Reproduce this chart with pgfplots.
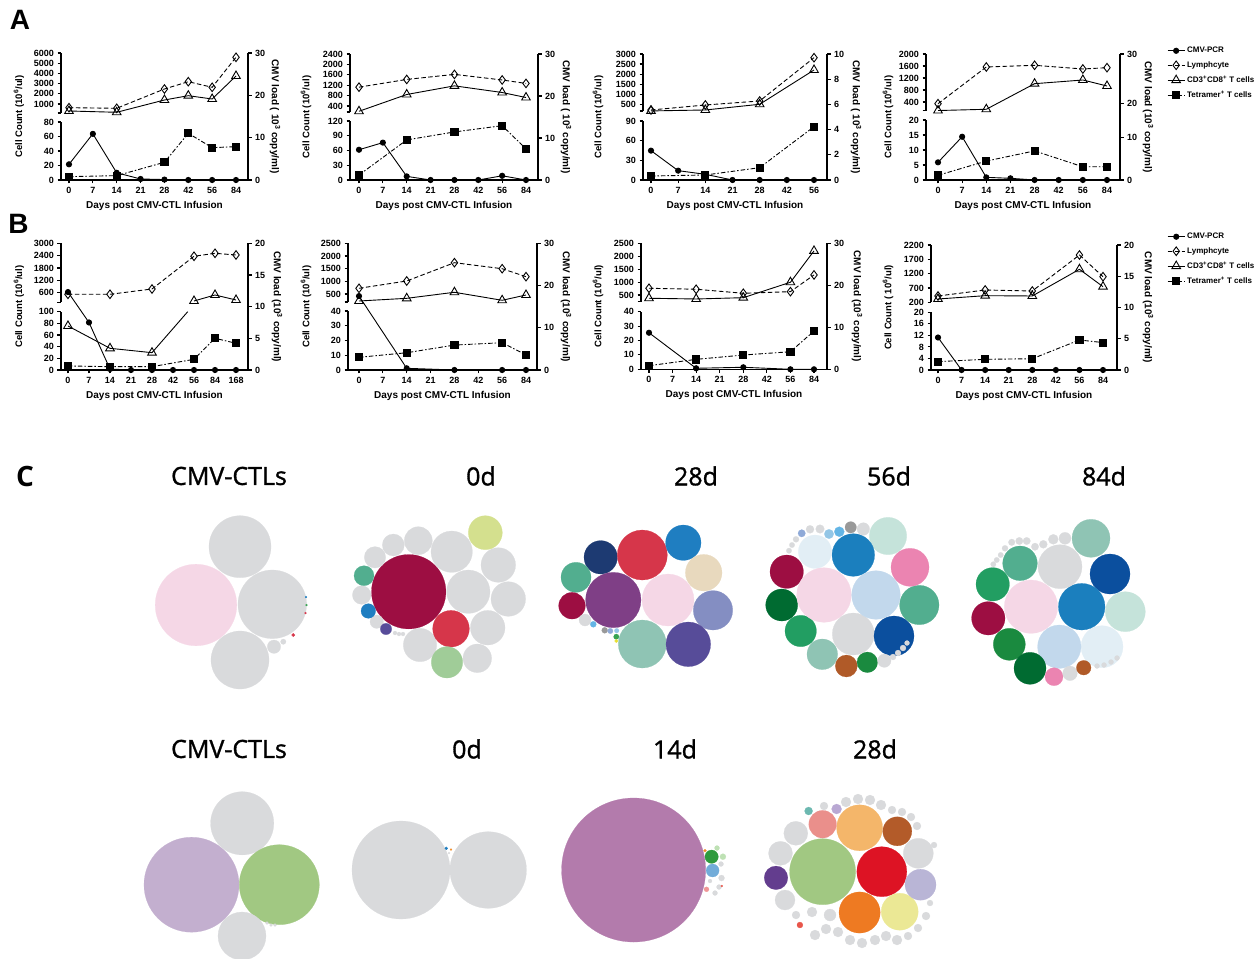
\documentclass[border=0pt]{standalone}
\usepackage{fontspec}
\setmainfont{Liberation Sans}
\newfontfamily\ofont{Open Sans}[FakeBold=1.2]
\newfontfamily\ofontb{Open Sans}
\usepackage{pgfplots}
\pgfplotsset{compat=1.18}
\definecolor{k0}{RGB}{217,218,220}\definecolor{k1}{RGB}{245,215,230}\definecolor{k2}{RGB}{157,14,66}
\definecolor{k3}{RGB}{214,54,74}\definecolor{k4}{RGB}{212,224,142}\definecolor{k5}{RGB}{82,174,143}
\definecolor{k6}{RGB}{31,126,193}\definecolor{k7}{RGB}{87,76,153}\definecolor{k8}{RGB}{160,204,152}
\definecolor{k9}{RGB}{29,58,114}\definecolor{k10}{RGB}{232,217,190}\definecolor{k11}{RGB}{127,63,134}
\definecolor{k12}{RGB}{132,142,194}\definecolor{k13}{RGB}{143,196,180}\definecolor{k14}{RGB}{100,181,229}
\definecolor{k15}{RGB}{153,153,153}\definecolor{k16}{RGB}{54,163,82}\definecolor{k17}{RGB}{232,224,48}
\definecolor{k18}{RGB}{0,107,49}\definecolor{k19}{RGB}{34,158,98}\definecolor{k20}{RGB}{176,90,40}
\definecolor{k21}{RGB}{26,138,63}\definecolor{k22}{RGB}{11,79,158}\definecolor{k23}{RGB}{235,132,177}
\definecolor{k24}{RGB}{197,227,218}\definecolor{k25}{RGB}{27,127,190}\definecolor{k26}{RGB}{226,238,245}
\definecolor{k27}{RGB}{194,216,236}\definecolor{k28}{RGB}{195,175,207}\definecolor{k29}{RGB}{161,200,130}
\definecolor{k30}{RGB}{179,123,172}\definecolor{k31}{RGB}{47,154,62}\definecolor{k32}{RGB}{114,172,217}
\definecolor{k33}{RGB}{221,19,36}\definecolor{k34}{RGB}{244,182,106}\definecolor{k35}{RGB}{179,91,41}
\definecolor{k36}{RGB}{234,143,139}\definecolor{k37}{RGB}{238,122,34}\definecolor{k38}{RGB}{235,232,149}
\definecolor{k39}{RGB}{185,181,214}\definecolor{k40}{RGB}{99,61,142}\definecolor{k41}{RGB}{108,184,176}
\definecolor{k42}{RGB}{185,168,211}\definecolor{k43}{RGB}{232,86,75}\definecolor{k44}{RGB}{147,198,230}
\definecolor{k45}{RGB}{143,170,216}\definecolor{k46}{RGB}{190,225,180}\definecolor{k47}{RGB}{240,150,150}
\definecolor{k48}{RGB}{240,140,40}
\pgfplotsset{
  gp/.style={scale only axis, anchor=south west, clip=false,
    axis line style={line width=1.2pt,-},
    every tick/.style={black, line width=1.1pt},
    major tick length=3.5pt, tick align=outside,
    tick label style={font=\bfseries\fontsize{9}{10}\selectfont},
    /pgf/number format/assume math mode=true,
    /pgf/number format/1000 sep={}, scaled y ticks=false},
  lowax/.style={gp, axis x line*=bottom, axis y line*=left, ymin=0},
  topax/.style={gp, axis x line=none, axis y line*=left},
  rax/.style={gp, axis x line=none, axis y line*=right},
  pcr/.style={black, line width=0.9pt, mark=*, mark size=2.6pt, mark options={solid}},
  lym/.style={black, line width=0.9pt, dash pattern=on 4.5pt off 2.5pt, mark=diamond, mark size=4.3pt, mark options={solid, fill=white}},
  cd/.style={black, line width=0.9pt, mark=triangle, mark size=5pt, mark options={solid, fill=white}},
  tet/.style={black, line width=0.9pt, dash pattern=on 4.5pt off 2pt on 1.5pt off 2pt, mark=square*, mark size=3.6pt, mark options={solid}},
  leg/.style={legend style={at={(axis description cs:#1)}, anchor=north west, draw=none, fill=none,
    font=\bfseries\fontsize{8}{8.5}\selectfont, row sep=3.3pt, inner sep=0pt}, legend cell align=left},
}
\newcommand{\lbls}[4]{%
  \node[font=\bfseries\fontsize{9.5}{11}\selectfont, rotate=90] at ([xshift=#1]axis description cs:0,0.5) {Cell Count (#310\textsuperscript{6}/ul)};
  \node[font=\bfseries\fontsize{10}{11}\selectfont, rotate=-90] at ([xshift=#2]axis description cs:1,0.5) {CMV load (#410\textsuperscript{3} copy/ml)};}
\newcommand{\xlbl}{\node[font=\bfseries\fontsize{10}{11}\selectfont] at ([yshift=-26pt]axis description cs:0.5,0) {Days post CMV-CTL Infusion};}
\begin{document}
\begin{tikzpicture}
\useasboundingbox (0pt,0pt) rectangle (1260pt,958pt);

% ================= Panel C bubbles =================
\begin{axis}[at={(0pt,0pt)}, anchor=south west, scale only axis, width=1260pt, height=958pt,
  xmin=0, xmax=1260, ymin=0, ymax=958, y dir=reverse, hide axis, clip=false]
\addplot[scatter, only marks, mark=*, point meta=x,
  visualization depends on={\thisrow{r}\as\rr},
  visualization depends on={value \thisrow{c}\as\cc},
  scatter/@pre marker code/.code={\scope[mark size=\rr, color=k\cc, line width=0.2pt]},
  scatter/@post marker code/.code={\endscope}]
  table[x=x, y=y] {
x y r c
196 605 40.8 1
240 546.7 31 0
272.3 604.3 34.3 0
240 660 29 0
274 646.7 6.7 0
283.3 641.7 2.7 0
293.3 635 1.7 3
306 597 1 6
306.5 605 1 16
305.5 613 1 3
408.7 591.7 37.2 2
451.7 551.7 20.7 0
418.3 540.7 14 0
393.3 545 11 0
375 557.3 10.7 0
468.3 591.7 21.7 0
498.3 565 17.3 0
508.3 599 17.3 0
487.7 627.7 17.3 0
477.3 658.3 14.3 0
420 645 16.7 0
361.7 595 9.3 0
376.7 621.7 6.7 0
485.3 532.7 17 4
364 575.7 10 5
368.3 611 7.3 6
386 629 5.7 7
451 628.7 18.3 3
447 662.3 15.7 8
395 633 2 0
399 634 2 0
403 634 2 0
600.7 557.3 16.7 9
642.3 555 25 3
683.3 542.7 17.7 6
576 577.3 15 5
703.7 572.7 18.3 10
572 605.7 13.3 2
613.3 600 27.7 11
668 600 26 1
713 610.3 19.7 12
642.3 644 24 13
688.3 644.3 22.3 7
585 620 6 0
593.3 624.3 3 14
604.7 630.3 3 15
610.3 631 2.7 45
616.3 636.7 2.7 16
616.3 641 1.7 17
616.7 630.7 2.3 44
786.7 571.7 16.7 2
781.7 605 16 18
800.7 631 15.7 19
822.3 654.3 15.3 13
846.3 666 11 20
867.3 662.3 10.3 21
853.3 634 21 0
894 636 20 22
919.3 605 19.7 5
910 567.3 19 23
888 536 18.7 24
853.3 555 21.3 25
815 551.7 16.7 26
824 595 27.3 1
876 595 24.3 27
884.3 660.7 6.7 0
893 657 3 0
898 653 3 0
903 648 3 0
907 643 2.5 0
850.7 527.3 5.7 15
863.3 529 6.3 0
839.3 531.7 5 14
829 534 4.7 44
820 529 4.3 0
810 529.3 4 0
801.7 533.3 3.7 45
796 539.3 3 0
792 545 2.7 0
789 550.7 2.7 0
1091 538.3 19 13
1110 574 20 22
1125.3 611.7 20 24
1102 646.7 21 26
1059.3 646.7 21.7 27
1081.7 606.7 23.3 25
1060 566.7 22 0
1031 606.7 26.7 1
1020 563.3 17.3 5
992.7 584.3 16.7 19
988.3 618.3 16.7 2
1009.3 644.3 16 21
1030 668.3 16 18
1054 676.7 9 23
1070 673.3 7.3 0
1083.7 667.7 7.3 20
1065 538.3 6 0
1053.3 539.3 5 0
1043.3 544.3 4 0
1035 546.7 3.7 0
1026.7 541 3.7 0
1019.3 541 3.7 0
1011.7 542.3 3.3 0
1005 548.3 3 0
1000.7 555 2.7 0
996.7 560 2.7 0
993.3 564.3 2.7 0
1097 666 2.5 0
1104 665 2.5 0
1111 662 2.5 0
1117 658 2.5 0
191.5 884.7 47.5 28
242.2 823.3 31.6 0
279.3 884.7 40 29
242 936 24 0
267 923 1.5 0
271 925 1.5 0
275 925 1.5 0
401 870 49 0
488.2 870 38.3 0
446.3 848.3 1.5 6
451 849.5 1 48
449 853 1 0
633.6 870 72 30
711.6 856.7 6.7 31
712.6 870.5 6.5 32
706.5 889.3 2.5 47
722.9 856.7 3 46
721 864 2.5 0
721.5 878 3 0
719 887 2.5 0
715 893 2.5 0
710 881 2 0
717 848 2.5 46
705 850.7 1.5 48
721.8 886 1 43
822.6 871.7 33 29
881.8 871.7 25 33
859.6 827.8 23 34
897.3 831.3 14.5 35
822.6 824.2 13.8 36
859.6 912.5 20.6 37
899.7 911.7 18.5 38
920.5 884.7 15.5 39
776 877.8 11.8 40
808.6 811 4 41
836.6 809 5 42
799.9 925 3 43
795.8 833.3 12 0
780.5 853.3 12 0
785 900 10 0
918.3 853.3 15 0
830 915 6 0
838 932 5 0
826 929 5 0
850 940 5 0
862 943 5 0
875 940 5 0
886 936 5 0
897 940 5 0
908 936 4 0
918 928 4 0
926 916 4 0
812 912 5 0
815 935 5 0
796 915 4 0
846 802 5 0
858 799 5 0
870 800 5 0
881 805 5 0
892 810 4 0
902 812 4 0
911 817 4 0
917 826 4 0
824 806 4 0
934 845 3 0
930 903 3 0
};
\end{axis}

% panel C labels
\node[font=\ofontb\bfseries\fontsize{28}{30}\selectfont] at (25pt,481pt) {C};
\node[font=\ofont\fontsize{25}{27}\selectfont] at (229pt,482pt) {CMV-CTLs};
\node[font=\ofont\fontsize{25}{27}\selectfont] at (481pt,482pt) {0d};
\node[font=\ofont\fontsize{25}{27}\selectfont] at (696pt,482pt) {28d};
\node[font=\ofont\fontsize{25}{27}\selectfont] at (889pt,482pt) {56d};
\node[font=\ofont\fontsize{25}{27}\selectfont] at (1104pt,482pt) {84d};
\node[font=\ofont\fontsize{25}{27}\selectfont] at (229pt,209pt) {CMV-CTLs};
\node[font=\ofont\fontsize{25}{27}\selectfont] at (467pt,209pt) {0d};
\node[font=\ofont\fontsize{25}{27}\selectfont] at (675pt,209pt) {14d};
\node[font=\ofont\fontsize{25}{27}\selectfont] at (875pt,209pt) {28d};

\node[font=\bfseries\fontsize{28}{30}\selectfont] at (20pt,938pt) {A};
\node[font=\bfseries\fontsize{28}{30}\selectfont] at (18.5pt,734pt) {B};

% ================= A1 =================
\begin{axis}[lowax, at={(61pt,778pt)}, width=187pt, height=58pt, xmin=-0.335, xmax=7.503, ymax=80,
  ytick={0,20,40,60,80}, xtick={0,...,7}, xticklabels={0,7,14,21,28,42,56,84}]
\addplot[tet] coordinates {(0,4.6)(2,6)(4,24.4)(5,64.4)(6,44.6)(7,46)};
\xlbl
\end{axis}
\begin{axis}[topax, at={(61pt,845pt)}, width=187pt, height=60pt, xmin=-0.335, xmax=7.503, ymin=118, ymax=6000,
  ytick={1000,2000,...,6000}, extra y ticks={118}, extra y tick labels={}]
\addplot[lym] coordinates {(0,638)(2,580)(4,2470)(5,3186)(6,2637)(7,5578)};
\addplot[cd] coordinates {(0,314)(2,187)(4,1392)(5,1814)(6,1490)(7,3745)};
\end{axis}
\begin{axis}[rax, at={(61pt,778pt)}, width=187pt, height=127pt, xmin=-0.335, xmax=7.503, ymin=0, ymax=30,
  ytick={0,10,20,30}]
\addplot[pcr] coordinates {(0,3.7)(1,10.9)(2,1.7)(3,0.24)(4,0.1)(5,0)(6,0)(7,0)};
\lbls{-42pt}{27pt}{}{\ }
\end{axis}

% ================= A2 =================
\begin{axis}[lowax, at={(350pt,778pt)}, width=188pt, height=59pt, xmin=-0.377, xmax=7.503, ymax=120,
  ytick={0,30,60,90,120}, xtick={0,...,7}, xticklabels={0,7,14,21,28,42,56,84}]
\addplot[tet] coordinates {(0,10.1)(2,81.5)(4,97.7)(6,110.5)(7,63.3)};
\xlbl
\end{axis}
\begin{axis}[topax, at={(350pt,846pt)}, width=188pt, height=58pt, xmin=-0.377, xmax=7.503, ymin=168, ymax=2400,
  ytick={400,800,...,2400}, extra y ticks={168}, extra y tick labels={}]
\addplot[lym] coordinates {(0,1123)(2,1421)(4,1615)(6,1400)(7,1267)};
\addplot[cd] coordinates {(0,195)(2,841)(4,1174)(6,918)(7,725)};
\end{axis}
\begin{axis}[rax, at={(350pt,778pt)}, width=188pt, height=126pt, xmin=-0.377, xmax=7.503, ymin=0, ymax=30,
  ytick={0,10,20,30}]
\addplot[pcr] coordinates {(0,7.2)(1,8.9)(2,0.86)(3,0)(4,0)(5,0)(6,1.0)(7,0)};
\lbls{-44pt}{28pt}{}{\ }
\end{axis}

% ================= A3 =================
\begin{axis}[lowax, at={(643pt,778pt)}, width=184pt, height=59pt, xmin=-0.294, xmax=6.478, ymax=90,
  ytick={0,30,60,90}, xtick={0,...,6}, xticklabels={0,7,14,21,28,42,56}]
\addplot[tet] coordinates {(0,6.1)(2,7.6)(4,18.8)(6,81.3)};
\xlbl
\end{axis}
\begin{axis}[topax, at={(643pt,847pt)}, width=184pt, height=57pt, xmin=-0.294, xmax=6.478, ymin=167, ymax=3000,
  ytick={500,1000,...,3000}, extra y ticks={167}, extra y tick labels={}]
\addplot[lym] coordinates {(0,217)(2,465)(4,664)(6,2816)};
\addplot[cd] coordinates {(0,170)(2,217)(4,500)(6,2205)};
\end{axis}
\begin{axis}[rax, at={(643pt,778pt)}, width=184pt, height=126pt, xmin=-0.294, xmax=6.478, ymin=0, ymax=10,
  ytick={0,2,...,10}]
\addplot[pcr] coordinates {(0,2.33)(1,0.74)(2,0.45)(3,0)(4,0)(5,0)(6,0)};
\lbls{-45pt}{29pt}{}{\ }
\end{axis}

% ================= A4 =================
\begin{axis}[lowax, at={(926pt,778pt)}, width=194pt, height=60pt, xmin=-0.497, xmax=7.539, ymax=20,
  ytick={0,5,...,20}, xtick={0,...,7}, xticklabels={0,7,14,21,28,42,56,84}]
\addplot[tet] coordinates {(0,1.56)(2,6.3)(4,9.7)(6,4.4)(7,4.4)};
\xlbl
\end{axis}
\begin{axis}[topax, at={(926pt,847.3pt)}, width=194pt, height=56.7pt, xmin=-0.497, xmax=7.539, ymin=110, ymax=2000,
  ytick={400,800,...,2000}, extra y ticks={110}, extra y tick labels={}]
\addplot[lym] coordinates {(0,343)(2,1567)(4,1623)(6,1500)(7,1543)};
\addplot[cd] coordinates {(0,115)(2,157)(4,1010)(6,1133)(7,933)};
\end{axis}
\begin{axis}[rax, at={(926pt,778pt)}, width=194pt, height=126pt, xmin=-0.497, xmax=7.539, ymin=0, ymax=30,
  ytick={0,10.07,18.17,30}, yticklabels={0,10,20,30}, leg={1.242,1.071}]
\addplot[pcr] coordinates {(0,4.2)(1,10.3)(2,0.63)(3,0.4)(4,0)(5,0)(6,0)(7,0)};
\addlegendentry{CMV-PCR}
\addlegendimage{lym}\addlegendentry{Lymphcyte}
\addlegendimage{cd}\addlegendentry{CD3\textsuperscript{+}CD8\textsuperscript{+} T cells}
\addlegendimage{tet}\addlegendentry{Tetramer\textsuperscript{+} T cells}
\lbls{-38pt}{28pt}{}{}
\end{axis}

% ================= B1 =================
\begin{axis}[lowax, at={(61pt,588pt)}, width=187pt, height=58.3pt, xmin=-0.333, xmax=8.571, ymax=100,
  ytick={0,20,...,100}, xtick={0,...,8}, xticklabels={0,7,14,21,28,42,56,84,168}]
\addplot[tet] coordinates {(0,6.9)(2,5.7)(4,5.7)(6,18.3)(7,54.4)(8,45.8)};
\addplot[cd] coordinates {(0,75.5)(2,37.2)(4,29.7)};
\addplot[black, line width=0.9pt] coordinates {(4,29.7)(5.7,100)};
\xlbl
\end{axis}
\begin{axis}[topax, at={(61pt,655.7pt)}, width=187pt, height=59pt, xmin=-0.333, xmax=8.571, ymin=134, ymax=3000,
  ytick={600,1200,...,3000}, extra y ticks={134}, extra y tick labels={}]
\addplot[lym] coordinates {(0,523)(2,523)(4,780)(6,2369)(7,2514)(8,2432)};
\addplot[cd] coordinates {(6,197)(7,489)(8,246)};
\end{axis}
\begin{axis}[rax, at={(61pt,588pt)}, width=187pt, height=126.7pt, xmin=-0.333, xmax=8.571, ymin=0, ymax=20,
  ytick={0,5,...,20}]
\addplot[pcr] coordinates {(0,12.3)(1,7.5)(2,0.15)(3,0)(4,0)(5,0)(6,0)(7,0)(8,0)};
\lbls{-42pt}{29pt}{}{}
\end{axis}

% ================= B2 =================
\begin{axis}[lowax, at={(348pt,588pt)}, width=189pt, height=59pt, xmin=-0.461, xmax=7.461, ymax=40,
  ytick={0,10,...,40}, xtick={0,...,7}, xticklabels={0,7,14,21,28,42,56,84}]
\addplot[tet] coordinates {(0,8.6)(2,11.7)(4,16.9)(6,18.5)(7,10.2)};
\xlbl
\end{axis}
\begin{axis}[topax, at={(348pt,656pt)}, width=189pt, height=58.7pt, xmin=-0.461, xmax=7.461, ymin=185, ymax=2500,
  ytick={500,1000,...,2500}, extra y ticks={185}, extra y tick labels={}]
\addplot[lym] coordinates {(0,725)(2,1013)(4,1735)(6,1498)(7,1183)};
\addplot[cd] coordinates {(0,224)(2,330)(4,568)(6,252)(7,461)};
\end{axis}
\begin{axis}[rax, at={(348pt,588pt)}, width=189pt, height=126.7pt, xmin=-0.461, xmax=7.461, ymin=0, ymax=30,
  ytick={0,10,20,30}]
\addplot[pcr] coordinates {(0,17.5)(2,0.4)(4,0)(6,0)(7,0)};
\lbls{-42pt}{29pt}{}{}
\end{axis}

% ================= B3 =================
\begin{axis}[lowax, at={(641pt,588.7pt)}, width=186pt, height=57.6pt, xmin=-0.339, xmax=7.552, ymax=40,
  ytick={0,10,...,40}, xtick={0,...,7}, xticklabels={0,7,14,21,28,42,56,84}]
\addplot[tet] coordinates {(0,2.5)(2,6.9)(4,9.9)(6,12.2)(7,26.6)};
\xlbl
\end{axis}
\begin{axis}[topax, at={(641pt,656.3pt)}, width=186pt, height=58.4pt, xmin=-0.339, xmax=7.552, ymin=240, ymax=2500,
  ytick={500,1000,...,2500}, extra y ticks={240}, extra y tick labels={}]
\addplot[lym] coordinates {(0,760)(2,721)(4,566)(6,628)(7,1275)};
\addplot[cd] coordinates {(0,372)(2,345)(4,395)(6,992)(7,2205)};
\end{axis}
\begin{axis}[rax, at={(641pt,588.7pt)}, width=186pt, height=126pt, xmin=-0.339, xmax=7.552, ymin=0, ymax=30,
  ytick={0,10,20,30}]
\addplot[pcr] coordinates {(0,8.7)(2,0.24)(4,0.48)(6,0)(7,0)};
\lbls{-43pt}{30pt}{}{}
\end{axis}

% ================= B4 =================
\begin{axis}[lowax, at={(931pt,588pt)}, width=186pt, height=57.7pt, xmin=-0.297, xmax=7.594, ymax=20,
  ytick={0,4,...,20}, xtick={0,...,7}, xticklabels={0,7,14,21,28,42,56,84}]
\addplot[tet] coordinates {(0,2.9)(2,3.7)(4,3.9)(6,10.4)(7,9.5)};
\xlbl
\end{axis}
\begin{axis}[topax, at={(931pt,655.7pt)}, width=186pt, height=57.3pt, xmin=-0.297, xmax=7.594, ymin=200, ymax=2200,
  ytick={200,700,...,2200}]
\addplot[lym] coordinates {(0,420)(2,629)(4,594)(6,1851)(7,1094)};
\addplot[cd] coordinates {(0,315)(2,431)(4,420)(6,1352)(7,745)};
\end{axis}
\begin{axis}[rax, at={(931pt,588pt)}, width=186pt, height=125pt, xmin=-0.297, xmax=7.594, ymin=0, ymax=20,
  ytick={0,5,...,20}, leg={1.269,1.112}]
\addplot[pcr] coordinates {(0,5.2)(1,0)(2,0)(3,0)(4,0)(5,0)(6,0)(7,0)};
\addlegendentry{CMV-PCR}
\addlegendimage{lym}\addlegendentry{Lymphcyte}
\addlegendimage{cd}\addlegendentry{CD3\textsuperscript{+}CD8\textsuperscript{+} T cells}
\addlegendimage{tet}\addlegendentry{Tetramer\textsuperscript{+} T cells}
\lbls{-43pt}{31pt}{\ }{}
\end{axis}
\end{tikzpicture}
\end{document}
